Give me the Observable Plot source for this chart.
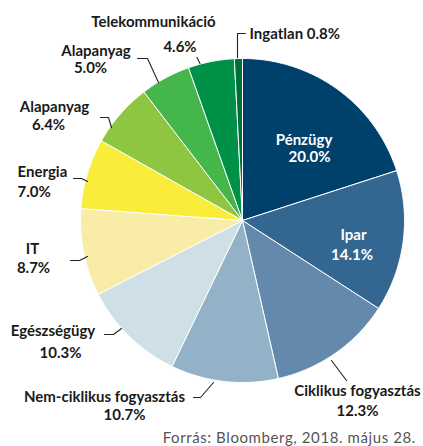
<!DOCTYPE html>
<html><head><meta charset="utf-8">
<script src="https://cdn.jsdelivr.net/npm/d3@7"></script>
<script src="https://cdn.jsdelivr.net/npm/@observablehq/plot@0.6"></script>
<style>
body{margin:0;background:#fff;}
#chart svg{display:block;}
#cap{font-family:Lato,"Open Sans",sans-serif;font-size:15px;line-height:18px;color:#555;text-align:right;padding-right:7px;letter-spacing:0.6px;}
</style>
</head><body>
<div id="chart"></div>
<div id="cap">Forrás: Bloomberg, 2018. május 28.</div>
<script>
// ---- data ----
const sectors = ["Pénzügy","Ipar","Ciklikus fogyasztás","Nem-ciklikus fogyasztás","Egészségügy","IT","Energia","Alapanyag","Alapanyag","Telekommunikáció","Ingatlan"];
const shares = [20.0,14.1,12.3,10.7,10.3,8.7,7.0,6.4,5.0,4.6,0.8];
const sliceColors = ["#00416b","#336791","#638aad","#93b2c8","#cfdfe6","#f9eca7","#f9ec3a","#8ec641","#45b649","#009149","#006e39"];
const shareLabels = ["20.0%","14.1%","12.3%","10.7%","10.3%","8.7%","7.0%","6.4%","5.0%","4.6%","0.8%"];

// ---- layout (pixels) ----
const W = 423, H = 428, cx = 242, cy = 220, R = 162;
const toX = px => (px - cx) / R, toY = py => (cy - py) / R;
const labelLayout = [
  {name:[303.5,140], val:[309,157], anchor:"middle", inside:true},
  {name:[353,235], val:[351.5,255], anchor:"middle", inside:true},
  {name:[357,391], val:[357,411], anchor:"middle"},
  {name:[104,397], val:[124,415], anchor:"middle"},
  {name:[52.5,331], val:[60,353], anchor:"middle"},
  {name:[32,249], val:[33,268], anchor:"middle"},
  {name:[17,172], val:[17,192], anchor:"start"},
  {name:[54,107], val:[48,125], anchor:"middle"},
  {name:[95.5,51], val:[90,68], anchor:"middle"},
  {name:[153,22], val:[179.5,46.5], anchor:"middle"},
  {name:[249,33.5], val:null, anchor:"start"}
];
const leaderLayout = [
  null, null,
  [[331,360],[346,380]],
  [[213,382],[200,397],[193,397]],
  [[121,328],[113,334],[104,334]],
  [[87,256],[79,260],[70,260]],
  [[87,181],[81,178],[73,178]],
  [[111,127],[108,117],[100,117]],
  [[158,82],[147,58],[137,58]],
  [[199.5,63],[196.5,57]],
  [[237,57],[237,33],[245,33]]
];

// ---- geometry from data ----
const arcs = d3.pie().sort(null).value(d => d)(shares);
const slicePts = [];
arcs.forEach((a, i) => {
  slicePts.push({k: i, x: 0, y: 0, c: sliceColors[i]});
  const n = Math.max(2, Math.ceil((a.endAngle - a.startAngle) / 0.01));
  for (let j = 0; j <= n; j++) {
    const t = a.startAngle + (a.endAngle - a.startAngle) * j / n;
    slicePts.push({k: i, x: Math.sin(t), y: Math.cos(t), c: sliceColors[i]});
  }
  slicePts.push({k: i, x: 0, y: 0, c: sliceColors[i]});
});

const textRows = [];
sectors.forEach((s, i) => {
  const L = labelLayout[i];
  if (L.val) {
    textRows.push({t: s, x: toX(L.name[0]), y: toY(L.name[1]), a: L.anchor, inside: !!L.inside});
    textRows.push({t: shareLabels[i], x: toX(L.val[0]), y: toY(L.val[1]), a: L.anchor, inside: !!L.inside});
  } else {
    textRows.push({t: s + " " + shareLabels[i], x: toX(L.name[0]), y: toY(L.name[1]), a: L.anchor, inside: false});
  }
});
const leaderPts = [];
leaderLayout.forEach((pts, i) => {
  if (!pts) return;
  pts.forEach(p => leaderPts.push({k: i, x: toX(p[0]), y: toY(p[1])}));
});

const font = {fontFamily: "Lato, 'Open Sans', sans-serif", fontSize: 15, fontWeight: "bold"};
const chart = Plot.plot({
  width: W, height: H,
  margin: 0,
  x: {domain: [-cx / R, (W - cx) / R], range: [0, W], axis: null},
  y: {domain: [-(H - cy) / R, cy / R], range: [H, 0], axis: null},
  color: {type: "identity"},
  style: {background: "#fff"},
  marks: [
    Plot.line(slicePts, {x: "x", y: "y", z: "k", fill: "c", stroke: "#fff", strokeWidth: 1, curve: "linear", strokeLinejoin: "round"}),
    Plot.line(leaderPts, {x: "x", y: "y", z: "k", stroke: "#222", strokeWidth: 1.1}),
    Plot.text(textRows.filter(d => d.a === "middle" && !d.inside), {x: "x", y: "y", text: "t", textAnchor: "middle", fill: "#1a1a1a", ...font}),
    Plot.text(textRows.filter(d => d.a === "start"), {x: "x", y: "y", text: "t", textAnchor: "start", fill: "#1a1a1a", ...font}),
    Plot.text(textRows.filter(d => d.inside), {x: "x", y: "y", text: "t", textAnchor: "middle", fill: "#fff", ...font})
  ]
});
document.getElementById("chart").appendChild(chart);
</script>
</body></html>
